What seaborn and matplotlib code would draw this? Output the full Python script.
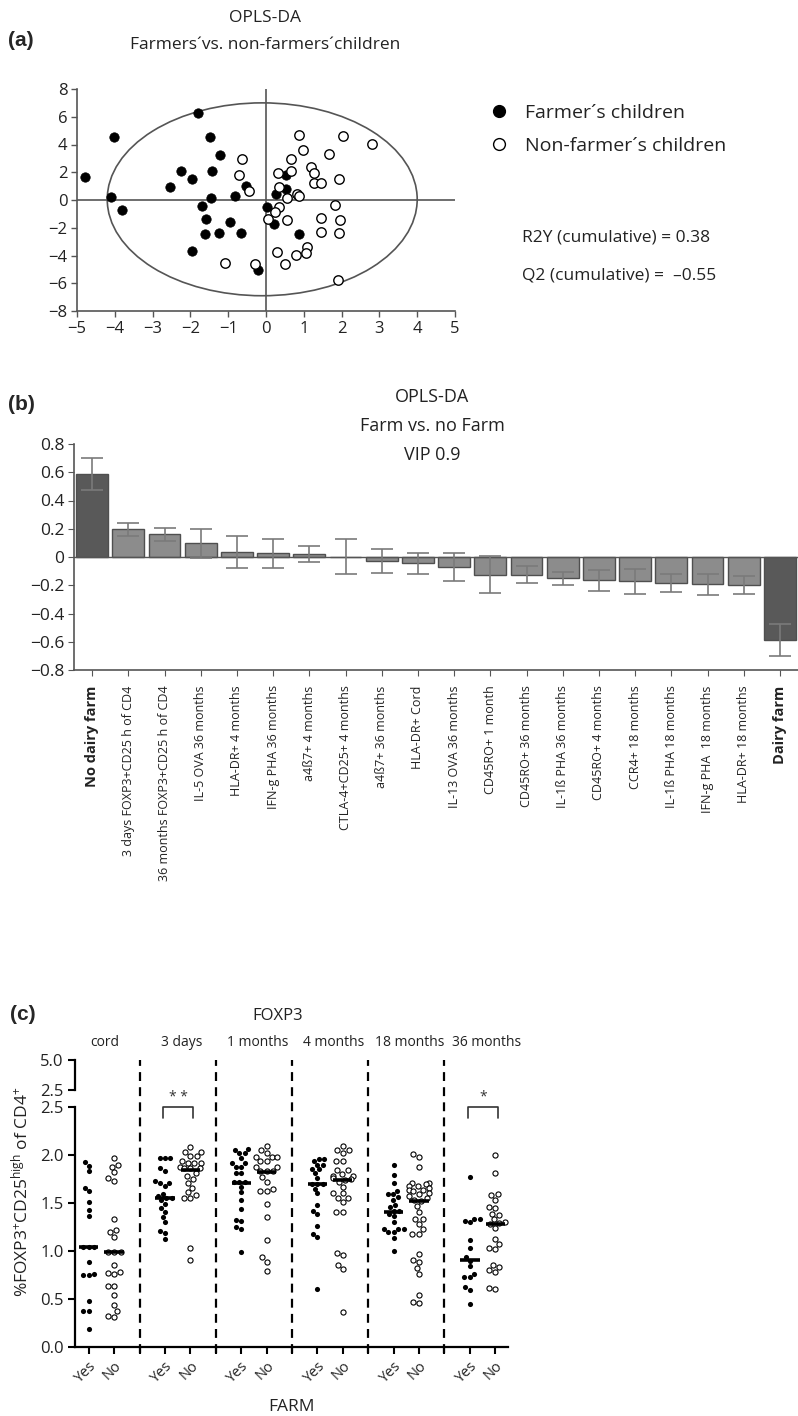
"""
Three-panel figure: OPLS-DA score plot (a), OPLS-DA loadings bar chart (b)
and FOXP3 dot plot by farm exposure and age (c).
"""

import matplotlib
matplotlib.use("Agg")
import matplotlib.pyplot as plt
import matplotlib.transforms as mtransforms
from matplotlib.lines import Line2D
from matplotlib.patches import Ellipse
import numpy as np
import pandas as pd
import seaborn as sns

# ---------------------------------------------------------------------------
# Data: panel (a) scores
# ---------------------------------------------------------------------------
farmer_x = [-4.78, -4.03, -4.09, -3.80, -1.80, -1.48, -1.21, -2.26, -1.96, -2.54,
            -1.43, -0.53, -1.45, -0.81, -1.68, -1.58, -0.94, -1.61, -1.25, -0.66,
            -1.97, -0.21, 0.03, 0.26, 0.53, 0.52, 0.22, 0.88]
farmer_y = [1.65, 4.57, 0.25, -0.69, 6.26, 4.53, 3.27, 2.06, 1.48, 0.91,
            2.09, 0.98, 0.16, 0.30, -0.42, -1.39, -1.56, -2.47, -2.38, -2.35,
            -3.70, -5.03, -0.52, 0.40, 1.80, 0.76, -1.72, -2.45]
nonfarmer_x = [-0.64, -0.71, -0.45, -1.09, -0.30, 0.87, 2.04, 2.80, 0.97, 1.66,
               0.66, 0.66, 0.33, 1.18, 1.28, 1.28, 1.45, 1.93, 0.35, 0.81,
               0.86, 0.56, 0.34, 0.24, 0.06, 0.56, 1.83, 1.46, 1.95, 1.46,
               1.92, 1.09, 1.07, 0.79, 0.30, 0.50, 1.91]
nonfarmer_y = [2.96, 1.80, 0.64, -4.55, -4.62, 4.65, 4.60, 4.04, 3.61, 3.32,
               2.96, 2.06, 1.94, 2.35, 1.94, 1.22, 1.20, 1.53, 0.91, 0.40,
               0.30, 0.13, -0.47, -0.86, -1.39, -1.46, -0.37, -1.31, -1.44, -2.33,
               -2.35, -3.37, -3.80, -3.97, -3.75, -4.60, -5.80]
ellipse_center = (-0.1, 0.05)
ellipse_width = 8.2
ellipse_height = 13.9
legend_labels = ["Farmer´s children", "Non-farmer´s children"]
r2y_text = "R2Y (cumulative) = 0.38"
q2_text = "Q2 (cumulative) =  \u20130.55"

# ---------------------------------------------------------------------------
# Data: panel (b) loadings
# ---------------------------------------------------------------------------
vip_labels = ["No dairy farm", "3 days FOXP3+CD25 h of CD4",
              "36 months FOXP3+CD25 h of CD4", "IL-5 OVA 36 months",
              "HLA-DR+ 4 months", "IFN-g PHA 36 months", "a4ß7+ 4 months",
              "CTLA-4+CD25+ 4 months", "a4ß7+ 36 months", "HLA-DR+ Cord",
              "IL-13 OVA 36 months", "CD45RO+ 1 month", "CD45RO+ 36 months",
              "IL-1ß PHA 36 months", "CD45RO+ 4 months", "CCR4+ 18 months",
              "IL-1ß PHA 18 months", "IFN-g PHA  18 months", "HLA-DR+ 18 months",
              "Dairy farm"]
vip_values = [0.585, 0.198, 0.160, 0.096, 0.035, 0.026, 0.021, 0.003, -0.030, -0.045,
              -0.073, -0.125, -0.125, -0.150, -0.165, -0.172, -0.183, -0.193, -0.200,
              -0.585]
vip_errors = [0.113, 0.046, 0.048, 0.105, 0.115, 0.102, 0.056, 0.124, 0.086, 0.074,
              0.098, 0.129, 0.060, 0.045, 0.074, 0.090, 0.063, 0.073, 0.063, 0.113]
vip_class_bars = ["No dairy farm", "Dairy farm"]

# ---------------------------------------------------------------------------
# Data: panel (c) FOXP3+CD25high of CD4+
# ---------------------------------------------------------------------------
age_groups = ["cord", "3 days", "1 months", "4 months", "18 months", "36 months"]
cord_yes = [1.93, 1.89, 1.83, 1.66, 1.62, 1.51, 1.43, 1.36, 1.04, 1.04, 1.04, 0.89,
            0.76, 0.75, 0.75, 0.48, 0.38, 0.37, 0.19]
cord_no = [1.97, 1.90, 1.88, 1.82, 1.76, 1.73, 1.33, 1.22, 1.20, 1.15, 0.99, 0.99,
           0.99, 0.85, 0.78, 0.77, 0.76, 0.64, 0.64, 0.54, 0.44, 0.37, 0.32, 0.31]
d3_yes = [1.97, 1.97, 1.97, 1.86, 1.83, 1.73, 1.71, 1.71, 1.68, 1.59, 1.57, 1.55,
          1.55, 1.53, 1.49, 1.45, 1.41, 1.35, 1.30, 1.21, 1.19, 1.12]
d3_no = [2.08, 2.03, 2.03, 1.99, 1.99, 1.94, 1.92, 1.92, 1.92, 1.88, 1.86, 1.86,
         1.86, 1.81, 1.78, 1.75, 1.71, 1.66, 1.61, 1.58, 1.55, 1.55, 1.03, 0.91]
m1_yes = [2.06, 2.05, 2.02, 2.02, 1.97, 1.92, 1.92, 1.88, 1.88, 1.81, 1.81, 1.72,
          1.72, 1.72, 1.67, 1.61, 1.53, 1.44, 1.32, 1.31, 1.25, 1.23, 0.99]
m1_no = [2.09, 2.05, 2.02, 1.98, 1.98, 1.98, 1.94, 1.94, 1.88, 1.88, 1.83, 1.83,
         1.83, 1.77, 1.72, 1.65, 1.63, 1.63, 1.49, 1.35, 1.11, 0.94, 0.89, 0.79]
m4_yes = [1.96, 1.96, 1.94, 1.90, 1.90, 1.85, 1.85, 1.81, 1.76, 1.70, 1.70, 1.70,
          1.65, 1.60, 1.48, 1.42, 1.39, 1.26, 1.18, 1.15, 0.60]
m4_no = [2.09, 2.05, 2.05, 2.02, 1.94, 1.94, 1.84, 1.84, 1.80, 1.78, 1.78, 1.76,
         1.75, 1.74, 1.72, 1.67, 1.60, 1.60, 1.55, 1.55, 1.51, 1.41, 1.41, 0.98,
         0.96, 0.85, 0.81, 0.36]
m18_yes = [1.90, 1.79, 1.71, 1.63, 1.59, 1.59, 1.56, 1.53, 1.48, 1.46, 1.42, 1.42,
           1.39, 1.36, 1.30, 1.23, 1.23, 1.23, 1.20, 1.20, 1.14, 1.00]
m18_no = [2.01, 1.98, 1.88, 1.71, 1.71, 1.70, 1.68, 1.68, 1.66, 1.64, 1.64, 1.62,
          1.60, 1.59, 1.57, 1.55, 1.53, 1.52, 1.47, 1.41, 1.33, 1.33, 1.28, 1.23,
          1.18, 1.18, 0.97, 0.91, 0.89, 0.82, 0.76, 0.54, 0.47, 0.46]
m36_yes = [1.77, 1.33, 1.33, 1.31, 1.30, 1.11, 1.03, 0.94, 0.90, 0.84, 0.76, 0.73,
           0.73, 0.62, 0.59, 0.45]
m36_no = [2.00, 1.81, 1.59, 1.58, 1.53, 1.46, 1.45, 1.39, 1.38, 1.33, 1.30, 1.29,
          1.28, 1.24, 1.12, 1.07, 1.03, 1.02, 0.85, 0.83, 0.80, 0.78, 0.61, 0.60]
# medians as drawn in the figure: (Yes, No) per age group
median_yes = [1.04, 1.555, 1.71, 1.695, 1.41, 0.905]
median_no = [0.99, 1.845, 1.82, 1.74, 1.525, 1.285]
significance = {"3 days": "* *", "36 months": "*"}

# ---------------------------------------------------------------------------
# Layout helpers (reference is 798 x 1416 px)
# ---------------------------------------------------------------------------
W, H = 798, 1416


def fx(px):
    return px / W


def fy(py):
    return 1 - py / H


def rect(left, top, right, bottom):
    return [fx(left), fy(bottom), (right - left) / W, (bottom - top) / H]


sns.set_style("ticks")
plt.rcParams["font.family"] = ["Open Sans", "DejaVu Sans"]
plt.rcParams["mathtext.fontset"] = "custom"
plt.rcParams["mathtext.rm"] = "Open Sans"
plt.rcParams["mathtext.it"] = "Open Sans:italic"
plt.rcParams["mathtext.bf"] = "Open Sans:bold"

GREY = "#555555"
TXT = "#222222"
fig = plt.figure(figsize=(W / 100, H / 100), dpi=100)

# ---------------------------------------------------------------------------
# Panel (a)
# ---------------------------------------------------------------------------
ax_a = fig.add_axes(rect(77, 89, 455, 311))
ax_a.add_patch(Ellipse(ellipse_center, ellipse_width, ellipse_height,
                       fill=False, ec=GREY, lw=1.2))
ax_a.axvline(0, color=GREY, lw=1.2)
ax_a.axhline(0, color=GREY, lw=1.2)
sns.scatterplot(x=farmer_x, y=farmer_y, color="black", edgecolor="black",
                s=46, linewidth=0.5, ax=ax_a, zorder=3)
sns.scatterplot(x=nonfarmer_x, y=nonfarmer_y, color="white", edgecolor="black",
                s=46, linewidth=1.0, ax=ax_a, zorder=3)
ax_a.set_xlim(-5, 5)
ax_a.set_ylim(-8, 8)
ax_a.set_xticks(range(-5, 6))
ax_a.set_yticks(range(-8, 9, 2))
ax_a.tick_params(labelsize=12, length=4, color=GREY, width=1, pad=3,
                 labelcolor=TXT)
for side in ["top", "right"]:
    ax_a.spines[side].set_visible(False)
for side in ["left", "bottom"]:
    ax_a.spines[side].set_color(GREY)
    ax_a.spines[side].set_linewidth(1.2)

fig.text(fx(8), fy(40), "(a)", fontsize=15, fontweight="bold",
         family=["Liberation Sans", "DejaVu Sans"], va="center")
fig.text(fx(265), fy(18), "OPLS-DA", fontsize=12.5, ha="center", va="center",
         color=TXT)
fig.text(fx(265), fy(45), "Farmers´vs. non-farmers´children", fontsize=12.5,
         ha="center", va="center", color=TXT)

handles = [
    Line2D([], [], marker="o", ls="", mfc="black", mec="black", ms=8.5),
    Line2D([], [], marker="o", ls="", mfc="white", mec="black", ms=8.5, mew=1),
]
leg = fig.legend(handles, legend_labels, loc="upper left",
                 bbox_to_anchor=(fx(489), fy(104)), frameon=False, fontsize=14,
                 handlelength=1.0, handletextpad=0.85, labelspacing=0.75,
                 borderaxespad=0, borderpad=0)
for t in leg.get_texts():
    t.set_color(TXT)
fig.text(fx(522), fy(238), r2y_text, fontsize=12.5, va="center", color=TXT)
fig.text(fx(522), fy(275), q2_text, fontsize=12.5, va="center", color=TXT)

# ---------------------------------------------------------------------------
# Panel (b)
# ---------------------------------------------------------------------------
ax_b = fig.add_axes(rect(74, 444, 798, 670))
bar_colors = ["#595959" if lab in vip_class_bars else "#8c8c8c" for lab in vip_labels]
sns.barplot(x=vip_labels, y=vip_values, hue=vip_labels, palette=bar_colors,
            legend=False, width=0.88, edgecolor="#4f4f4f", linewidth=1,
            saturation=1, ax=ax_b)
ax_b.errorbar(np.arange(len(vip_values)), vip_values, yerr=vip_errors, fmt="none",
              ecolor="#7a7a7a", elinewidth=1.2, capsize=8, capthick=1.2, zorder=4)
ax_b.axhline(0, color=GREY, lw=1)
ax_b.set_xlim(-0.5, len(vip_values) - 0.5)
ax_b.set_ylim(-0.8, 0.8)
yt = np.round(np.arange(-0.8, 0.81, 0.2), 1)
ax_b.set_yticks(yt)
ax_b.set_yticklabels(["0" if v == 0 else f"{v:.1f}".replace("-", "\u2212") for v in yt])
ax_b.set_xticks(range(len(vip_labels)))
ax_b.set_xticklabels(vip_labels, rotation=90, fontsize=9)
for lab in ax_b.get_xticklabels():
    if lab.get_text() in vip_class_bars:
        lab.set_fontweight("bold")
        lab.set_fontsize(10.5)
ax_b.tick_params(axis="y", labelsize=12.5, length=4, color=GREY, pad=3,
                 labelcolor=TXT)
ax_b.tick_params(axis="x", length=4, color=GREY, pad=7, labelcolor=TXT)
for side in ["top", "right"]:
    ax_b.spines[side].set_visible(False)
for side in ["left", "bottom"]:
    ax_b.spines[side].set_color(GREY)
    ax_b.spines[side].set_linewidth(1.2)

fig.text(fx(8), fy(405), "(b)", fontsize=15, fontweight="bold",
         family=["Liberation Sans", "DejaVu Sans"], va="center")
for txt, py in zip(["OPLS-DA", "Farm vs. no Farm", "VIP 0.9"], [397, 426, 455]):
    fig.text(fx(432), fy(py), txt, fontsize=13, ha="center", va="center", color=TXT)

# ---------------------------------------------------------------------------
# Panel (c)
# ---------------------------------------------------------------------------
series = [cord_yes, cord_no, d3_yes, d3_no, m1_yes, m1_no,
          m4_yes, m4_no, m18_yes, m18_no, m36_yes, m36_no]
order = []
rows = []
for i, grp in enumerate(age_groups):
    for j, farm in enumerate(["Yes", "No"]):
        slot = f"{grp}|{farm}"
        order.append(slot)
        for v in series[2 * i + j]:
            rows.append({"slot": slot, "farm": farm, "value": v})
    if i < len(age_groups) - 1:
        order.append(f"gap{i}")
df_c = pd.DataFrame(rows)

ax_ct = fig.add_axes(rect(75, 1060, 508, 1090))
ax_c = fig.add_axes(rect(75, 1107, 508, 1347))

sns.swarmplot(data=df_c[df_c["farm"] == "Yes"], x="slot", y="value", order=order,
              color="black", size=3.7, linewidth=0, ax=ax_c, zorder=3)
sns.swarmplot(data=df_c[df_c["farm"] == "No"], x="slot", y="value", order=order,
              color="white", edgecolor="black", linewidth=0.8, size=3.7,
              ax=ax_c, zorder=3)

for i, grp in enumerate(age_groups):
    p_yes = order.index(f"{grp}|Yes")
    p_no = order.index(f"{grp}|No")
    ax_c.hlines([median_yes[i], median_no[i]], [p_yes - 0.38, p_no - 0.38],
                [p_yes + 0.38, p_no + 0.38], color="black", lw=2.6, zorder=4)
    if grp in significance:
        x0, x1 = p_yes - 0.08, p_no + 0.12
        ax_c.plot([x0, x0, x1, x1], [2.385, 2.5, 2.5, 2.385], color="#333333",
                  lw=1.2, clip_on=False, zorder=5)
        ax_c.text((x0 + x1) / 2, 2.6, significance[grp], ha="center", va="center",
                  fontsize=10, color="#333333", clip_on=False)

gap_pos = [k for k, s in enumerate(order) if s.startswith("gap")]
for p in gap_pos:
    ax_c.axvline(p, ymin=-0.025, ymax=1.196, color="black", lw=1.6,
                 ls=(0, (4, 2.8)), clip_on=False, zorder=2)

ax_c.set_xlim(-0.54, len(order) - 0.5)
ax_c.set_ylim(0, 2.5)
ax_c.set_yticks(np.arange(0, 2.51, 0.5))
ax_c.set_xticks(range(len(order)))
ax_c.set_xticklabels(["" if s.startswith("gap") else s.split("|")[1] for s in order],
                     rotation=45, ha="right", rotation_mode="anchor", fontsize=10.5)
ax_c.set_xlabel("FARM", fontsize=12.5, labelpad=10, color=TXT)
ax_c.set_ylabel("")
ax_c.tick_params(axis="both", length=5, width=1.5, color="black", labelcolor=TXT)
ax_c.tick_params(axis="y", labelsize=12, pad=3)
ax_c.tick_params(axis="x", pad=3)
for side in ["top", "right"]:
    ax_c.spines[side].set_visible(False)
for side in ["left", "bottom"]:
    ax_c.spines[side].set_linewidth(1.6)
    ax_c.spines[side].set_color("black")

ax_ct.set_xlim(ax_c.get_xlim())
ax_ct.set_ylim(2.5, 5.0)
ax_ct.set_yticks([2.5, 5.0])
ax_ct.set_yticklabels(["2.5", "5.0"])
ax_ct.set_xticks([])
ax_ct.patch.set_alpha(0)
ax_ct.tick_params(axis="y", labelsize=12, length=5, width=1.5, color="black", pad=3,
                  labelcolor=TXT)
for side in ["top", "right", "bottom"]:
    ax_ct.spines[side].set_visible(False)
ax_ct.spines["left"].set_linewidth(1.6)
ax_ct.spines["left"].set_color("black")

trans = mtransforms.blended_transform_factory(ax_c.transData, fig.transFigure)
for i, grp in enumerate(age_groups):
    center = (order.index(f"{grp}|Yes") + order.index(f"{grp}|No")) / 2
    ax_c.text(center + 0.15, fy(1042), grp, transform=trans, ha="center",
              va="center", fontsize=10, color=TXT)

fig.text(fx(10), fy(1015), "(c)", fontsize=15, fontweight="bold",
         family=["Liberation Sans", "DejaVu Sans"], va="center")
fig.text(fx(278), fy(1016), "FOXP3", fontsize=12, ha="center", va="center", color=TXT)
fig.text(fx(20), fy(1192), r"%FOXP3$^{+}$CD25$^{\mathrm{high}}$ of CD4$^{+}$",
         rotation=90, ha="center", va="center", fontsize=12.5, color=TXT)

fig.savefig("out.png", dpi=100)
plt.close(fig)
